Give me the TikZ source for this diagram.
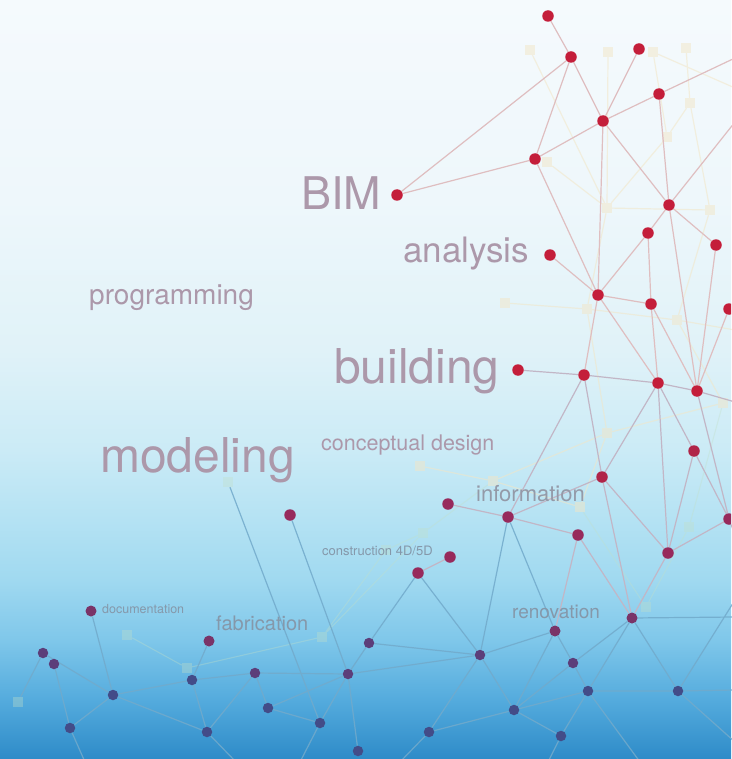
\documentclass[tikz,border=0pt]{standalone}
\usepackage{fontspec}
\setmainfont{TeX Gyre Heros}
\definecolor{bg1}{HTML}{F5FAFD}
\definecolor{bg2}{HTML}{EEF7FB}
\definecolor{bg3}{HTML}{E0F2F8}
\definecolor{bg4}{HTML}{CBEBF6}
\definecolor{bg5}{HTML}{B4E2F3}
\definecolor{bg6}{HTML}{A0D9F0}
\definecolor{bg7}{HTML}{7FC7EA}
\definecolor{bg8}{HTML}{54ABDD}
\definecolor{bg9}{HTML}{2E8BC8}
\definecolor{dotR}{HTML}{C41E3A}
\definecolor{dotR2}{HTML}{B02448}
\definecolor{dotM}{HTML}{972A5C}
\definecolor{dotP}{HTML}{7A3468}
\definecolor{dotQ}{HTML}{5C3E7A}
\definecolor{dotB}{HTML}{434C88}
\definecolor{edgeR}{HTML}{DFBEC0}
\definecolor{edgeM}{HTML}{C2B6C6}
\definecolor{edgeB}{HTML}{72AACB}
\definecolor{ghostT}{HTML}{F2E6C6}
\definecolor{ghostB}{HTML}{C2E0C8}
\definecolor{txtA}{HTML}{AC98AA}
\definecolor{txtB}{HTML}{949AA8}
\definecolor{txtC}{HTML}{8598AA}
\pgfdeclareverticalshading{bgshade}{100bp}{color(0bp)=(bg9); color(25bp)=(bg9); color(28.89bp)=(bg8); color(32.84bp)=(bg7); color(36.79bp)=(bg6); color(40.74bp)=(bg5); color(45.36bp)=(bg4); color(51.94bp)=(bg3); color(61.83bp)=(bg2); color(75bp)=(bg1); color(100bp)=(bg1)}
\pgfdeclarelayer{back}
\pgfdeclarelayer{glines}
\pgfdeclarelayer{ghost}
\pgfdeclarelayer{edges}
\pgfsetlayers{back,glines,ghost,edges,main}
\tikzset{
  dot/.style={circle, inner sep=0pt, minimum size=11.5pt},
  dR/.style={dot, fill=dotR},
  dR2/.style={dot, fill=dotR2},
  dM/.style={dot, fill=dotM},
  dP/.style={dot, fill=dotP, minimum size=11pt},
  dQ/.style={dot, fill=dotQ, minimum size=10.5pt},
  dB/.style={dot, fill=dotB, minimum size=10.5pt},
  gT/.style={rectangle, inner sep=0pt, minimum size=10pt, fill=ghostT, opacity=0.5},
  gB/.style={rectangle, inner sep=0pt, minimum size=10pt, fill=ghostB, opacity=0.35},
  eR/.style={draw=edgeR, line width=1.2pt},
  eM/.style={draw=edgeM, line width=1.2pt},
  eB/.style={draw=edgeB, line width=1.2pt, opacity=0.85},
  eG/.style={draw=ghostT, line width=1.2pt, opacity=0.55},
  eGB/.style={draw=ghostB, line width=1.1pt, opacity=0.35},
  word/.style={inner sep=0pt, anchor=base west}
}
\begin{document}
\begin{tikzpicture}[x=1pt,y=-1pt]
\begin{pgfonlayer}{back}
\shade[shading=bgshade] (0,0) rectangle (731,759);
\end{pgfonlayer}
\useasboundingbox (0,0) rectangle (731,759);
\clip (0,0) rectangle (731,759);
% free ends
\coordinate (E1) at (735,58);
\coordinate (E2) at (735,122);
\coordinate (E4) at (735,402);
\coordinate (E5) at (735,617);
\coordinate (E6) at (640,762);
\coordinate (E7) at (735,742);
\coordinate (E8) at (735,600);
\coordinate (E10) at (400,762);
\coordinate (E11) at (548,762);
\coordinate (E12) at (300,762);
\coordinate (E13) at (85,762);
\coordinate (E14) at (236,762);
\coordinate (E15) at (735,535);
\coordinate (E16) at (735,88);
\coordinate (E17) at (735,330);
\coordinate (E18) at (735,690);
% ghost nodes
\begin{pgfonlayer}{ghost}
\node[gT] (g1) at (530,50) {};
\node[gT] (g2) at (608,52) {};
\node[gT] (g3) at (653,52) {};
\node[gT] (g4) at (686,48) {};
\node[gT] (g5) at (690,103) {};
\node[gT] (g6) at (667,137) {};
\node[gT] (g7) at (607,208) {};
\node[gT] (g8) at (710,210) {};
\node[gT] (g9) at (547,162) {};
\node[gT] (g10) at (505,303) {};
\node[gT] (g11) at (587,309) {};
\node[gT] (g12) at (677,320) {};
\node[gT] (g13) at (607,433) {};
\node[gT] (g14) at (723,403) {};
\node[gT] (g23) at (420,466) {};
\node[gT] (g24) at (493,481) {};
\node[gT] (g26) at (580,507) {};
\node[gB] (g17) at (689,527) {};
\node[gB] (g15) at (423,533) {};
\node[gB] (g16) at (386,550) {};
\node[gB] (g18) at (646,607) {};
\node[gB] (g19) at (127,635) {};
\node[gB] (g20) at (18,702) {};
\node[gB] (g21) at (322,637) {};
\node[gB] (g22) at (187,668) {};
\node[gB] (g27) at (228,482) {};
\end{pgfonlayer}
% dots
\node[dR] (r1) at (548,16) {};
\node[dR] (r2) at (571,57) {};
\node[dR] (r3) at (639,49) {};
\node[dR] (r4) at (659,94) {};
\node[dR] (r5) at (603,121) {};
\node[dR] (r6) at (535,159) {};
\node[dR] (r7) at (669,205) {};
\node[dR] (r8) at (648,233) {};
\node[dR] (r9) at (716,245) {};
\node[dR] (bim) at (397,195) {};
\node[dR] (ana) at (550,255) {};
\node[dR] (r10) at (598,295) {};
\node[dR] (r11) at (651,304) {};
\node[dR] (r12) at (729,309) {};
\node[dR] (bld) at (518,370) {};
\node[dR] (r13) at (584,375) {};
\node[dR] (r14) at (658,383) {};
\node[dR] (r15) at (697,391) {};
\node[dR2] (r16) at (694,451) {};
\node[dR2] (r17) at (602,477) {};
\node[dM] (m1) at (448,504) {};
\node[dM] (m2) at (508,517) {};
\node[dM] (m3) at (578,535) {};
\node[dM] (m4) at (668,553) {};
\node[dM] (m5) at (729,519) {};
\node[dM] (m6) at (290,515) {};
\node[dM] (m7) at (450,557) {};
\node[dM] (m8) at (418,573) {};
\node[dP] (m9) at (555,631) {};
\node[dP] (m10) at (632,618) {};
\node[dQ] (b1) at (369,643) {};
\node[dQ] (b2) at (480,655) {};
\node[dQ] (b3) at (573,663) {};
\node[dB] (b4) at (588,691) {};
\node[dB] (b5) at (678,691) {};
\node[dB] (b6) at (514,710) {};
\node[dB] (b7) at (429,732) {};
\node[dB] (b8) at (561,736) {};
\node[dP] (b9) at (91,611) {};
\node[dP] (b10) at (209,641) {};
\node[dQ] (b11) at (43,653) {};
\node[dQ] (b12) at (54,664) {};
\node[dB] (b13) at (192,680) {};
\node[dQ] (b14) at (255,673) {};
\node[dQ] (b15) at (348,674) {};
\node[dB] (b16) at (113,695) {};
\node[dB] (b17) at (268,708) {};
\node[dB] (b18) at (70,728) {};
\node[dB] (b19) at (207,732) {};
\node[dB] (b20) at (320,723) {};
\node[dB] (b21) at (358,751) {};
% ghost lines
\begin{pgfonlayer}{glines}
\path[eG] (g1) -- (g7) (g2) -- (g7) (g9) -- (g7) (g6) -- (g7) (g7) -- (g8)
  (g4) -- (g5) (g5) -- (g8) (g5) -- (g6) (g3) -- (E16) (g3) -- (g6)
  (g10) -- (g11) (g11) -- (g12) (g12) -- (E17) (g7) -- (g11) (g11) -- (g13)
  (g13) -- (g24) (g23) -- (g24) (g24) -- (g26) (g13) -- (g14) (g12) -- (g14)
  (g13) -- (g26) (g8) -- (g12);
\path[eGB] (g14) -- (g17) (g17) -- (g18) (g26) -- (g18) (g15) -- (g16)
  (g15) -- (g24) (g21) -- (g15) (g19) -- (g22) (g22) -- (g21) (g16) -- (g21);
\end{pgfonlayer}
% connectors
\begin{pgfonlayer}{edges}
\path[eR] (r1) -- (r2) (r2) -- (r5) (r2) -- (r6) (bim) -- (r2) (bim) -- (r6)
  (r6) -- (r5) (r5) -- (r4) (r4) -- (E1) (r3) -- (r5) (r5) -- (r10) (r5) -- (r7)
  (r4) -- (r7) (r7) -- (E2) (r7) -- (r8) (r7) -- (r15) (r7) -- (r9) (r6) -- (r10)
  (r8) -- (r10) (ana) -- (r10) (r10) -- (r11) (r10) -- (r14) (r10) -- (r13)
  (r8) -- (r11) (r11) -- (r14) (r11) -- (r15) (r12) -- (r15) (r9) -- (r15);
\path[eM] (bld) -- (r13) (r13) -- (r14) (r14) -- (r15) (r13) -- (r17) (r13) -- (m2)
  (r14) -- (r17) (r14) -- (r16) (r14) -- (m4) (r15) -- (m5) (r16) -- (m4)
  (r16) -- (m5) (r17) -- (m2) (r17) -- (m10) (r17) -- (m4) (m1) -- (m2)
  (m2) -- (m3) (m3) -- (m9) (m3) -- (m10) (m4) -- (m5) (m4) -- (m10)
  (m7) -- (m8) (r15) -- (E4) (m5) -- (E15);
\path[eB] (m2) -- (b2) (m2) -- (m9) (m6) -- (b15) (m8) -- (b1) (m8) -- (b2)
  (b1) -- (b2) (b1) -- (b15) (b2) -- (b15) (b2) -- (b7) (b2) -- (b6) (b2) -- (m9)
  (m9) -- (b3) (m9) -- (b6) (b3) -- (b4) (m10) -- (b3) (m10) -- (b5) (m10) -- (b4)
  (m10) -- (E5) (b4) -- (b5) (b4) -- (b6) (b6) -- (b3) (b4) -- (E6) (b5) -- (E7)
  (b5) -- (E8) (b5) -- (E18) (b6) -- (b7) (b6) -- (b8) (b8) -- (b4) (b7) -- (E10)
  (b8) -- (E11) (b9) -- (b16) (b10) -- (b13) (b13) -- (b16) (b13) -- (b19)
  (b13) -- (b14) (b14) -- (b15) (b14) -- (b19) (b14) -- (b17) (b17) -- (b15)
  (b15) -- (b20) (b15) -- (b21) (b16) -- (b18) (b12) -- (b18) (b11) -- (g20)
  (b16) -- (b19) (b17) -- (b20) (b20) -- (E12) (b18) -- (E13) (b19) -- (E14)
  (g27) -- (b20) (b11) -- (b16);
\end{pgfonlayer}
% words
\node[word, text=txtA, font=\fontsize{45}{48}\selectfont] (tbim) at (301,209) {BIM};
\node[word, text=txtA, font=\fontsize{35}{38}\selectfont] (tana) at (403,262) {analysis};
\node[word, text=txtA, font=\fontsize{28}{30}\selectfont] (tprog) at (89,304) {programming};
\node[word, text=txtA, font=\fontsize{48}{50}\selectfont] (tbld) at (334,383) {building};
\node[word, text=txtA, font=\fontsize{48}{50}\selectfont] (tmod) at (100,472) {modeling};
\node[word, text=txtA, font=\fontsize{21.5}{23}\selectfont] (tcon) at (321,450) {conceptual design};
\node[word, text=txtB, font=\fontsize{22}{24}\selectfont] (tinf) at (476,501) {information};
\node[word, text=txtC, font=\fontsize{13}{14}\selectfont] (tcst) at (322,555) {construction 4D/5D};
\node[word, text=txtC, font=\fontsize{20}{22}\selectfont] (tfab) at (216,630) {fabrication};
\node[word, text=txtC, font=\fontsize{12.5}{14}\selectfont] (tdoc) at (102,613) {documentation};
\node[word, text=txtC, font=\fontsize{19}{21}\selectfont] (tren) at (512,618) {renovation};
\end{tikzpicture}
\end{document}
